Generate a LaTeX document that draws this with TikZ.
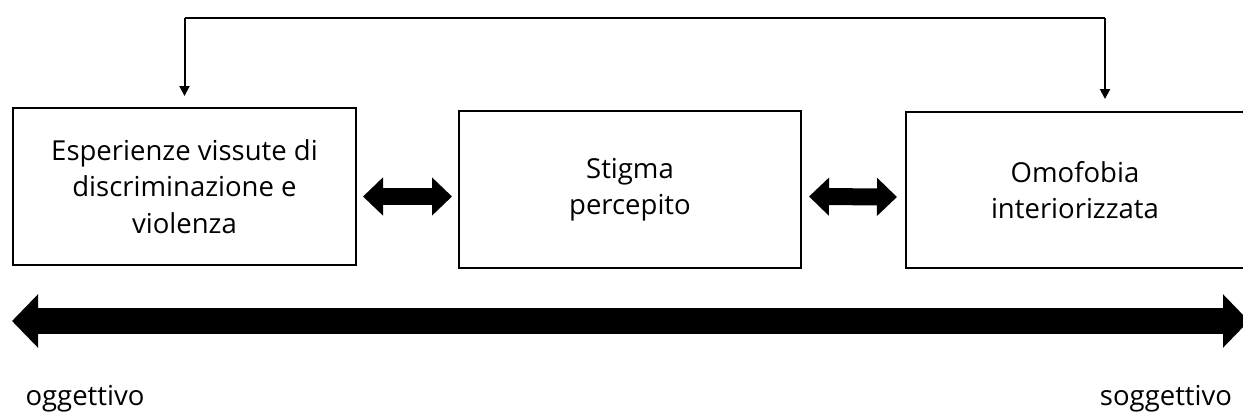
\documentclass[tikz,border=0pt]{standalone}
\usepackage{fontspec}
\setmainfont{Open Sans}
\usetikzlibrary{arrows.meta}

\tikzset{
	box/.style={draw, line width=2pt, align=center, font=\fontsize{27.5}{36.5}\selectfont},
	fat/.style={line width=17pt, {Triangle[width=37pt,length=20pt]}-{Triangle[width=37pt,length=20pt]}},
	scale line/.style={line width=26pt, {Triangle[width=52pt,length=26pt]}-{Triangle[width=52pt,length=26pt]}},
	link/.style={line width=2pt, -{Triangle[width=10pt,length=10pt]}}
}

\begin{document}
\begin{tikzpicture}[x=1pt, y=-1pt]
		\useasboundingbox (0,0) rectangle (1243,415);
		
		\node[box, minimum width=343pt, minimum height=157pt] (esp) at (184.5,186.5) {Esperienze vissute di\\discriminazione e\\violenza};
		\node[box, minimum width=342pt, minimum height=157pt] (stig) at (630,189.5) {Stigma\\percepito};
		\node[box, minimum width=338pt, minimum height=156pt] (omo) at (1075,190) {Omofobia\\interiorizzata};
		
		% frecce tra i riquadri
		\draw[fat] ([xshift=6pt,yshift=-10pt]esp.east) -- ([xshift=-6pt,yshift=-7pt]stig.west);
		\draw[fat] ([xshift=7pt,yshift=-7pt]stig.east) -- ([xshift=-8pt,yshift=-7pt]omo.west);
		
		% collegamento in alto
		\draw[link] (184.5,18) -- ([yshift=11pt]esp.north);
		\draw[link] (1105,18) -- ([xshift=30pt,yshift=12pt]omo.north);
		\draw[line width=2pt] (184.5,18) -- (1105,18);
		
		% asse oggettivo - soggettivo
		\coordinate (ogg) at (12,321);
		\coordinate (sog) at (1249,321);
		\draw[scale line] (ogg) -- (sog);
		\node[font=\fontsize{27.5}{30}\selectfont, anchor=base] (oggt) at (85,405) {oggettivo};
		\node[font=\fontsize{27.5}{30}\selectfont, anchor=base] (sogt) at (1166,405) {soggettivo};
	\end{tikzpicture}
\end{document}
